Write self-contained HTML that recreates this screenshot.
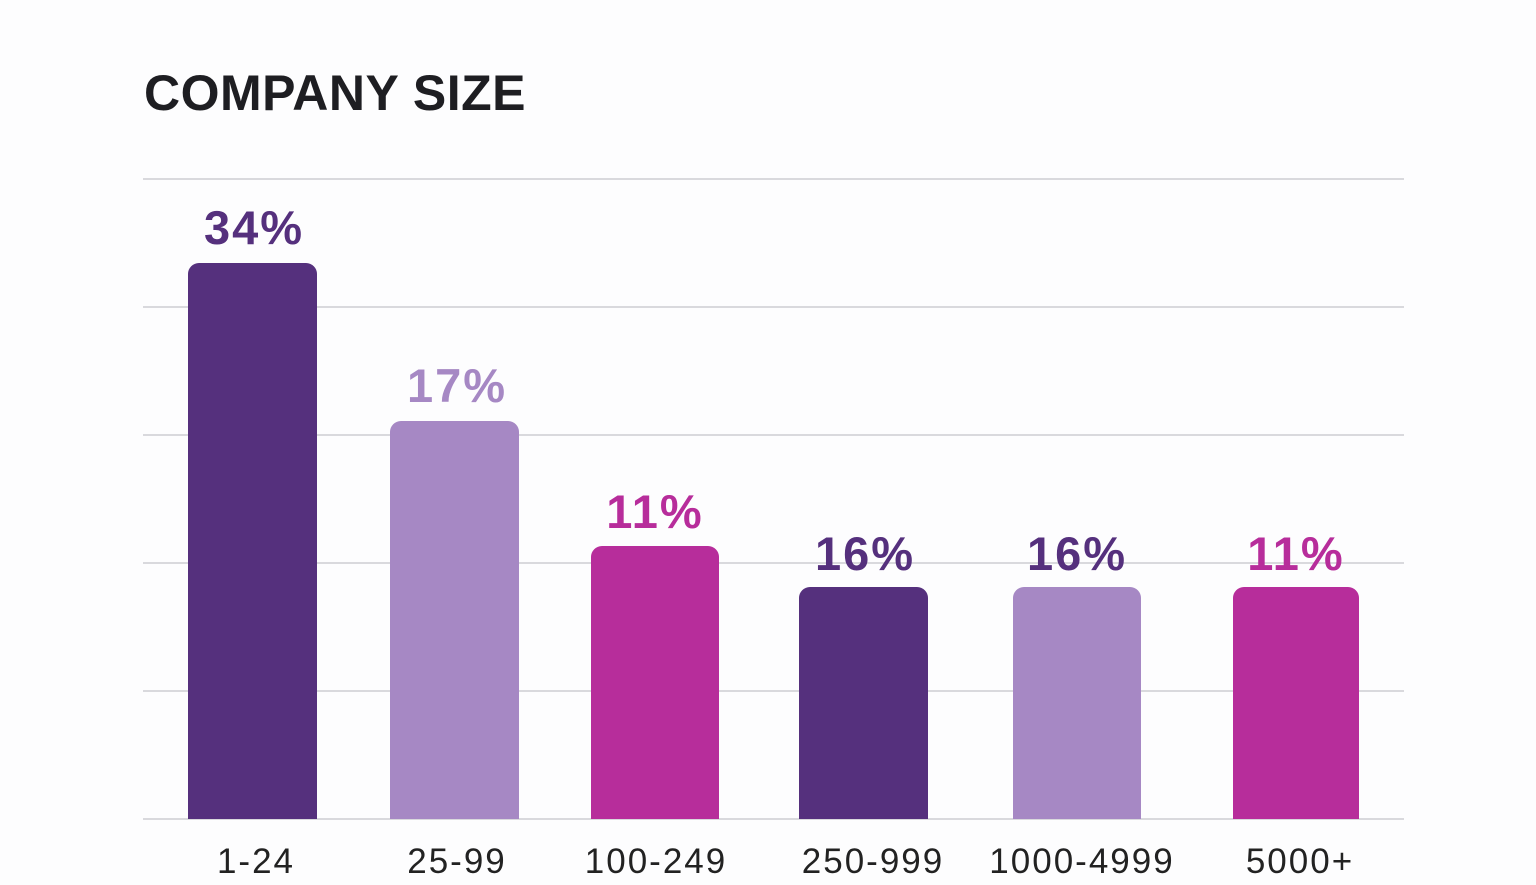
<!DOCTYPE html>
<html><head><meta charset="utf-8"><style>
html,body{margin:0;padding:0;background:#fdfdfe;}
body{width:1536px;height:885px;position:relative;overflow:hidden;font-family:"Liberation Sans","DejaVu Sans",sans-serif;}
.t{position:absolute;left:144px;top:64px;font-size:50px;font-weight:bold;color:#1e1e22;letter-spacing:0.5px;}
.g{position:absolute;left:143px;width:1261px;height:2px;background:#d9d9dd;}
.b{position:absolute;border-radius:11px 11px 0 0;}
.v{position:absolute;font-size:47px;font-weight:bold;text-align:center;width:240px;letter-spacing:2px;}
.c{position:absolute;top:842px;font-size:35px;color:#222;text-align:center;width:260px;letter-spacing:2px;}
</style></head><body>
<div class="t">COMPANY SIZE</div>
<div class="g" style="top:178px"></div>
<div class="g" style="top:306px"></div>
<div class="g" style="top:434px"></div>
<div class="g" style="top:562px"></div>
<div class="g" style="top:690px"></div>
<div class="g" style="top:818px"></div>

<div class="b" style="left:188px;width:129px;top:263px;height:556px;background:#55307d"></div>
<div class="b" style="left:390px;width:129px;top:421px;height:398px;background:#a688c4"></div>
<div class="b" style="left:591px;width:128px;top:546px;height:273px;background:#b72d9b"></div>
<div class="b" style="left:799px;width:129px;top:587px;height:232px;background:#55307d"></div>
<div class="b" style="left:1013px;width:128px;top:587px;height:232px;background:#a688c4"></div>
<div class="b" style="left:1233px;width:126px;top:587px;height:232px;background:#b72d9b"></div>

<div class="v" style="left:134px;top:200px;color:#55307d">34%</div>
<div class="v" style="left:337px;top:358px;color:#a688c4">17%</div>
<div class="v" style="left:535px;top:484px;color:#b72d9b">11%</div>
<div class="v" style="left:745px;top:526px;color:#55307d">16%</div>
<div class="v" style="left:957px;top:526px;color:#55307d">16%</div>
<div class="v" style="left:1176px;top:526px;color:#b72d9b">11%</div>

<div class="c" style="left:126px">1-24</div>
<div class="c" style="left:327px">25-99</div>
<div class="c" style="left:526px">100-249</div>
<div class="c" style="left:743px">250-999</div>
<div class="c" style="left:952px">1000-4999</div>
<div class="c" style="left:1170px">5000+</div>
</body></html>
